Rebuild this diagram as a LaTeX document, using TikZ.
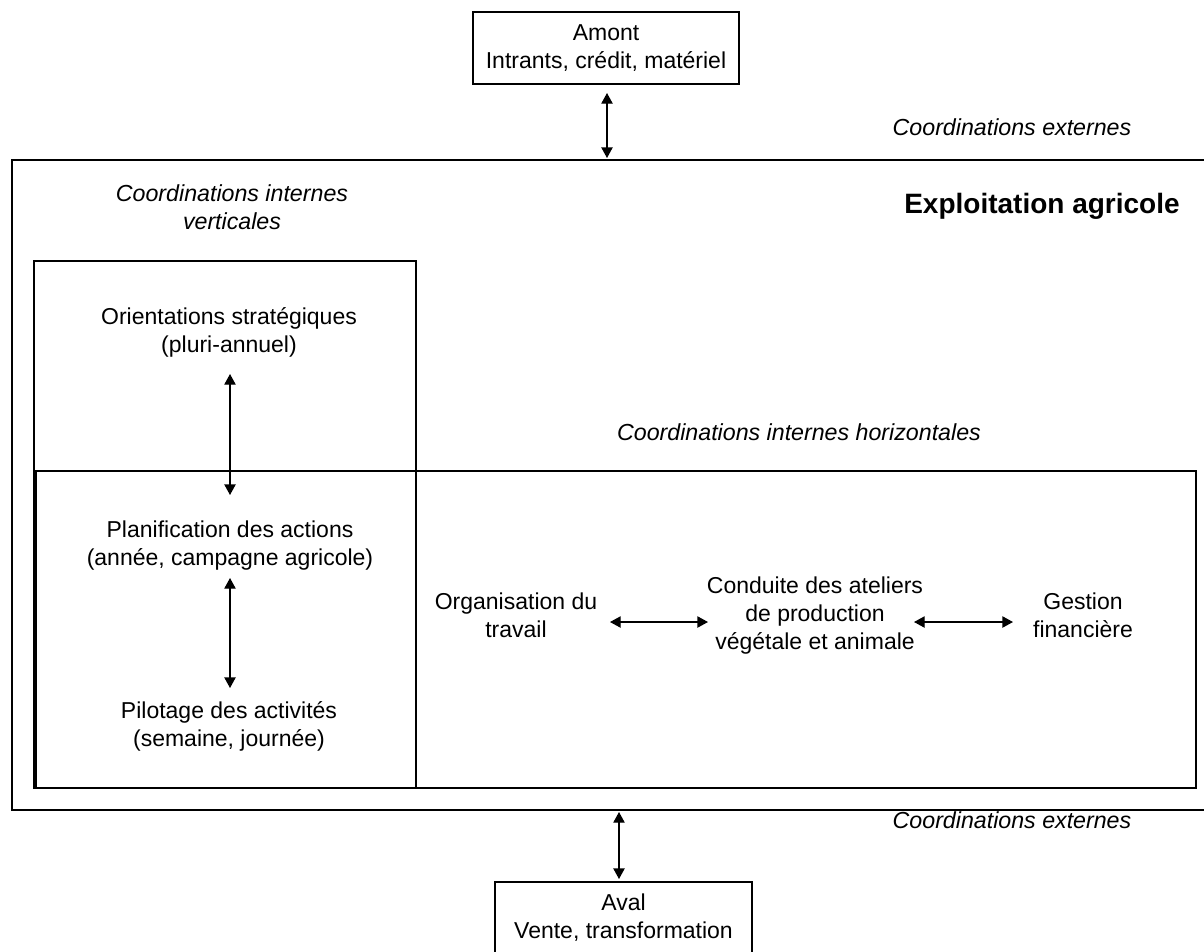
\documentclass[tikz,border=0pt]{standalone}
\usepackage{fontspec}
\setmainfont{Liberation Sans}
\usetikzlibrary{arrows.meta}
\begin{document}
\begin{tikzpicture}[x=0.75pt,y=-0.75pt,
  every node/.style={font=\fontsize{17.25pt}{21pt}\selectfont, inner sep=0pt, align=center},
  boxed/.style={draw, line width=1.15pt},
  italabel/.style={font=\fontsize{17.4pt}{21pt}\selectfont\itshape},
  dbl/.style={line width=1pt, {Triangle[length=8pt,width=8.5pt]}-{Triangle[length=8pt,width=8.5pt]}}
]
\useasboundingbox (0,0) rectangle (1204,951);
\clip (0,0) rectangle (1204,951);
% boxes
\node[boxed, anchor=north west, minimum width=906pt, minimum height=487.5pt] (outer) at (11,159) {};
\node[boxed, anchor=north west, minimum width=286.5pt, minimum height=395.25pt] (vbox) at (33,260) {};
\node[boxed, anchor=north west, minimum width=870pt, minimum height=237.75pt] (hbox) at (35,470) {};
\node[boxed, minimum width=199.5pt, minimum height=54pt] (amont) at (606,48) {Amont\\Intrants, crédit, matériel};
\node[boxed, minimum width=192.75pt, minimum height=54pt] (aval) at (623.5,918) {Aval\\Vente, transformation};
% labels
\node[italabel] (extTop) at (1012,127) {Coordinations externes};
\node[italabel] (extBot) at (1012,820) {Coordinations externes};
\node[font=\fontsize{21pt}{24pt}\selectfont\bfseries] (expl) at (1042,206) {Exploitation agricole};
\node[italabel] (civ) at (232,207) {Coordinations internes\\verticales};
\node[italabel] (cih) at (799,432) {Coordinations internes horizontales};
\node (orient) at (229,332) {Orientations stratégiques\\(pluri-annuel)};
\node (plan) at (230,546) {Planification des actions\\(année, campagne agricole)};
\node (pilot) at (229,726) {Pilotage des activités\\(semaine, journée)};
\node (orga) at (516,615) {Organisation du\\travail};
\node (cond) at (815,616) {Conduite des ateliers\\de production\\végétale et animale};
\node (gest) at (1083,615) {Gestion\\financière};
% arrow end points
\coordinate (tA) at (607,93);
\coordinate (tB) at (607,158);
\coordinate (bA) at (619,812);
\coordinate (bB) at (619,879);
\coordinate (v1A) at (230,374);
\coordinate (v1B) at (230,495);
\coordinate (v2A) at (230,578);
\coordinate (v2B) at (230,688);
\coordinate (h1A) at (610,622);
\coordinate (h1B) at (708,622);
\coordinate (h2A) at (914,622);
\coordinate (h2B) at (1013,622);
% connectors
\draw[dbl] (tA) -- (tB);
\draw[dbl] (bA) -- (bB);
\draw[dbl] (v1A) -- (v1B);
\draw[dbl] (v2A) -- (v2B);
\draw[dbl] (h1A) -- (h1B);
\draw[dbl] (h2A) -- (h2B);
\end{tikzpicture}
\end{document}
